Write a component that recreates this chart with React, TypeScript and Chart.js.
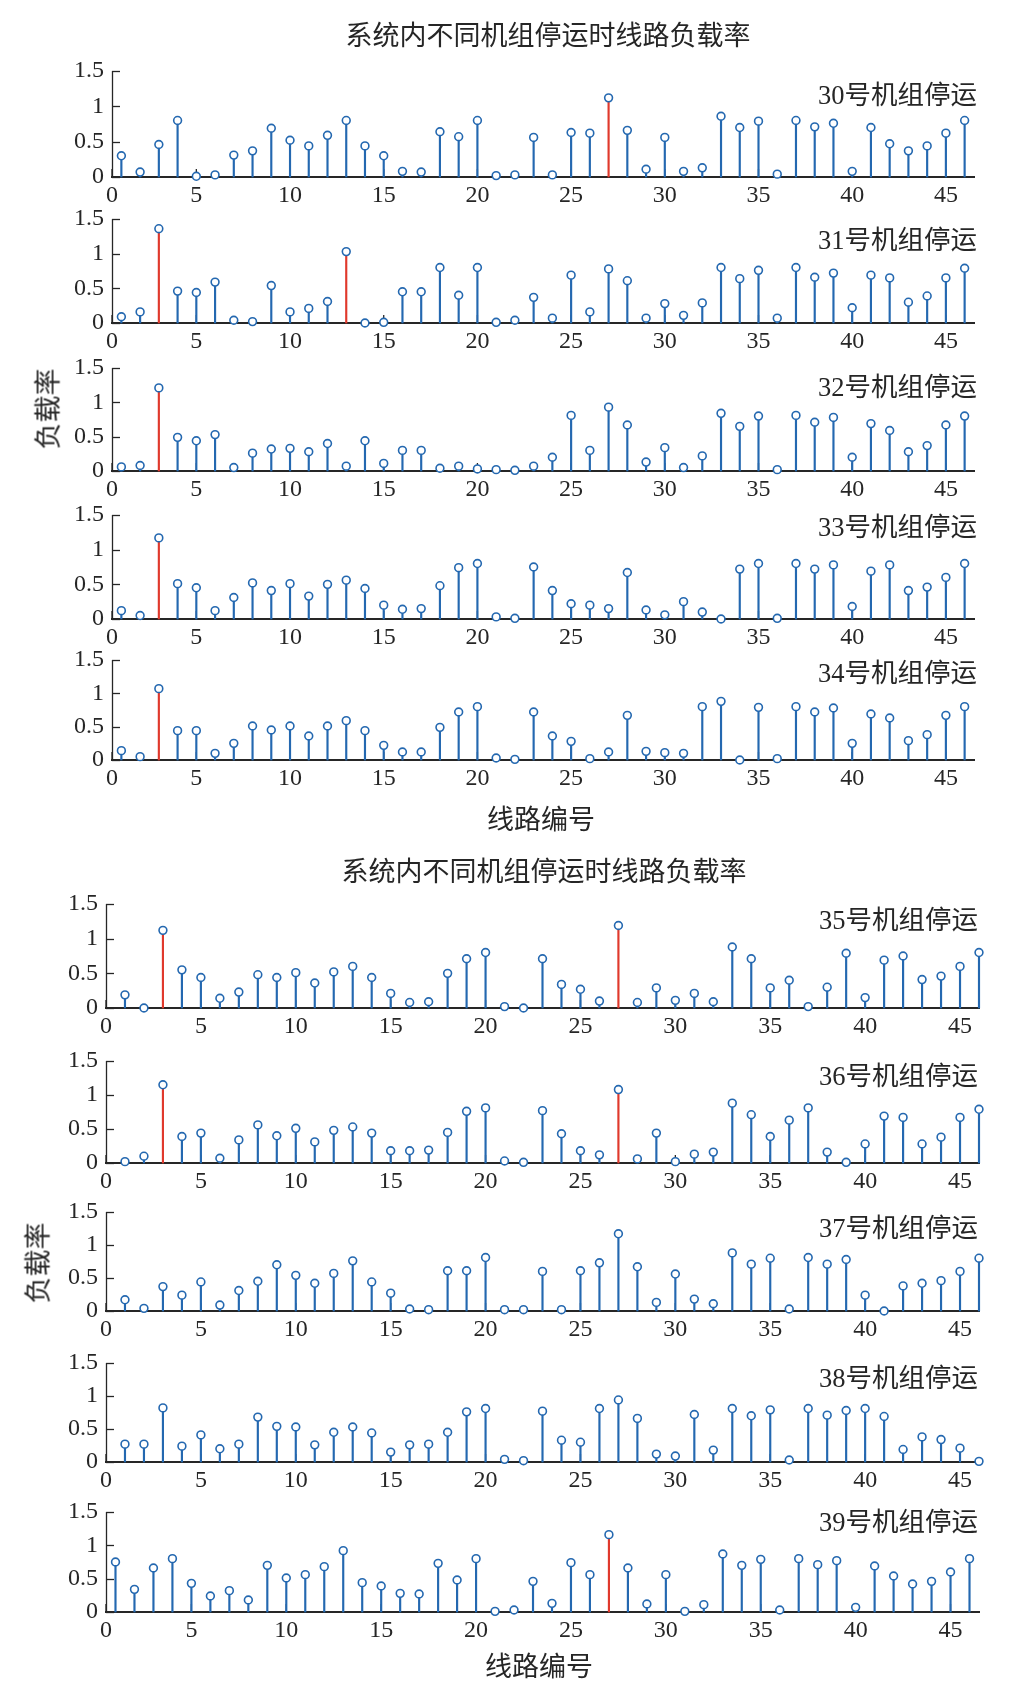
import React, { useEffect, useRef } from "react";
import { Chart, registerables } from "chart.js";

Chart.register(...registerables);

// ---------------- data ----------------
const lineNumbers = [
  1, 2, 3, 4, 5, 6, 7, 8, 9, 10, 11, 12, 13, 14, 15, 16, 17, 18, 19, 20, 21, 22, 23,
  24, 25, 26, 27, 28, 29, 30, 31, 32, 33, 34, 35, 36, 37, 38, 39, 40, 41, 42, 43, 44,
  45, 46,
];

const load30 = [0.30, 0.07, 0.46, 0.80, 0.01, 0.03, 0.31, 0.37, 0.69, 0.52, 0.44, 0.59, 0.80, 0.44, 0.30, 0.08, 0.07, 0.64, 0.57, 0.80, 0.02, 0.03, 0.56, 0.03, 0.63, 0.62, 1.12, 0.66, 0.11, 0.56, 0.08, 0.13, 0.86, 0.70, 0.79, 0.04, 0.80, 0.71, 0.76, 0.08, 0.70, 0.47, 0.37, 0.44, 0.62, 0.80];
const load31 = [0.09, 0.16, 1.36, 0.46, 0.44, 0.59, 0.04, 0.02, 0.54, 0.16, 0.21, 0.31, 1.03, 0.00, 0.01, 0.45, 0.45, 0.80, 0.40, 0.80, 0.01, 0.04, 0.37, 0.07, 0.69, 0.16, 0.78, 0.61, 0.07, 0.28, 0.11, 0.29, 0.80, 0.64, 0.76, 0.07, 0.80, 0.66, 0.72, 0.22, 0.69, 0.65, 0.30, 0.39, 0.65, 0.79];
const load32 = [0.06, 0.08, 1.21, 0.49, 0.44, 0.53, 0.05, 0.26, 0.32, 0.33, 0.28, 0.40, 0.07, 0.44, 0.11, 0.30, 0.30, 0.04, 0.07, 0.03, 0.02, 0.01, 0.07, 0.20, 0.81, 0.30, 0.93, 0.67, 0.13, 0.34, 0.05, 0.22, 0.84, 0.65, 0.80, 0.02, 0.81, 0.71, 0.78, 0.20, 0.69, 0.59, 0.28, 0.37, 0.67, 0.80];
const load33 = [0.12, 0.05, 1.17, 0.51, 0.45, 0.12, 0.31, 0.52, 0.41, 0.51, 0.33, 0.50, 0.56, 0.44, 0.20, 0.14, 0.15, 0.48, 0.74, 0.80, 0.03, 0.01, 0.75, 0.41, 0.22, 0.20, 0.15, 0.67, 0.13, 0.06, 0.25, 0.10, 0.00, 0.72, 0.80, 0.01, 0.80, 0.72, 0.78, 0.18, 0.69, 0.78, 0.41, 0.46, 0.60, 0.80];
const load34 = [0.14, 0.05, 1.07, 0.44, 0.44, 0.10, 0.25, 0.51, 0.45, 0.51, 0.36, 0.51, 0.59, 0.44, 0.22, 0.12, 0.12, 0.49, 0.72, 0.80, 0.03, 0.01, 0.72, 0.36, 0.28, 0.02, 0.12, 0.67, 0.13, 0.11, 0.10, 0.80, 0.88, 0.00, 0.79, 0.02, 0.80, 0.72, 0.78, 0.25, 0.69, 0.63, 0.29, 0.38, 0.67, 0.80];
const load35 = [0.19, 0.00, 1.12, 0.55, 0.44, 0.14, 0.23, 0.48, 0.44, 0.51, 0.36, 0.52, 0.60, 0.44, 0.21, 0.08, 0.09, 0.50, 0.71, 0.80, 0.02, 0.00, 0.71, 0.34, 0.27, 0.10, 1.19, 0.08, 0.29, 0.11, 0.21, 0.09, 0.88, 0.71, 0.29, 0.40, 0.02, 0.30, 0.79, 0.15, 0.69, 0.75, 0.41, 0.46, 0.60, 0.80];
const load36 = [0.02, 0.10, 1.15, 0.39, 0.44, 0.07, 0.34, 0.56, 0.40, 0.51, 0.31, 0.48, 0.53, 0.44, 0.18, 0.18, 0.19, 0.45, 0.76, 0.81, 0.03, 0.01, 0.77, 0.43, 0.18, 0.12, 1.08, 0.06, 0.44, 0.02, 0.13, 0.16, 0.88, 0.71, 0.39, 0.63, 0.81, 0.16, 0.01, 0.28, 0.69, 0.67, 0.28, 0.38, 0.67, 0.79];
const load37 = [0.17, 0.04, 0.37, 0.24, 0.44, 0.09, 0.31, 0.45, 0.70, 0.54, 0.42, 0.57, 0.76, 0.44, 0.27, 0.03, 0.02, 0.61, 0.61, 0.81, 0.02, 0.02, 0.60, 0.02, 0.61, 0.73, 1.17, 0.67, 0.13, 0.56, 0.18, 0.11, 0.88, 0.71, 0.80, 0.03, 0.81, 0.71, 0.78, 0.24, 0.00, 0.38, 0.42, 0.46, 0.60, 0.80];
const load38 = [0.27, 0.27, 0.82, 0.24, 0.41, 0.20, 0.27, 0.68, 0.54, 0.53, 0.26, 0.45, 0.53, 0.44, 0.15, 0.26, 0.27, 0.45, 0.76, 0.81, 0.04, 0.02, 0.77, 0.33, 0.30, 0.81, 0.94, 0.66, 0.12, 0.09, 0.72, 0.18, 0.81, 0.70, 0.79, 0.03, 0.81, 0.71, 0.78, 0.81, 0.69, 0.19, 0.38, 0.34, 0.21, 0.01];
const load39 = [0.75, 0.34, 0.66, 0.80, 0.43, 0.24, 0.32, 0.18, 0.70, 0.51, 0.56, 0.68, 0.92, 0.44, 0.39, 0.28, 0.27, 0.73, 0.48, 0.80, 0.01, 0.03, 0.46, 0.13, 0.74, 0.56, 1.16, 0.66, 0.12, 0.56, 0.01, 0.11, 0.87, 0.70, 0.79, 0.03, 0.80, 0.71, 0.77, 0.07, 0.69, 0.54, 0.42, 0.46, 0.60, 0.80];

// lines drawn in red (overloaded) for each outage case
const red30 = [27];
const red31 = [3, 13];
const red32 = [3];
const red33 = [3];
const red34 = [3];
const red35 = [3, 27];
const red36 = [3, 27];
const red37: number[] = [];
const red38: number[] = [];
const red39 = [27];

const caseNames = ["30号机组停运", "31号机组停运", "32号机组停运", "33号机组停运", "34号机组停运", "35号机组停运", "36号机组停运", "37号机组停运", "38号机组停运", "39号机组停运"];
const figureTitle = "系统内不同机组停运时线路负载率";
const xAxisTitle = "线路编号";
const yAxisTitle = "负载率";

const yTickValues = [0, 0.5, 1, 1.5];
const yTickLabels = ["0", "0.5", "1", "1.5"];
const xTickValuesShifted = [0.5, 5, 10, 15, 20, 25, 30, 35, 40, 45];
const xTickValuesPlain = [0, 5, 10, 15, 20, 25, 30, 35, 40, 45];
const xTickLabels = ["0", "5", "10", "15", "20", "25", "30", "35", "40", "45"];

// ---------------- style / layout ----------------
const BLUE = "#2468b0";
const RED = "#e0392c";
const AXIS = "#262626";
const SERIF = "'Liberation Serif', 'Times New Roman', 'Noto Sans CJK SC', serif";
const TICK_FONT = 24;
const PAD_TOP = 24;
const PAD_BOTTOM = 46;

type Panel = {
  name: string;
  values: number[];
  red: number[];
  top: number;
  zero: number;
  left: number;
  right: number;
  xmin: number;
  xmax: number;
  xticks: number[];
  labelY: number;
  labelRight: number;
};

const G1 = { left: 112, right: 974, labelRight: 977, xmin: 0.5, xmax: 46.5, xticks: xTickValuesShifted };
const G2 = { left: 106, right: 979, labelRight: 978, xmin: 0, xmax: 46, xticks: xTickValuesPlain };
const G2s = { left: 106, right: 979, labelRight: 978, xmin: 0.5, xmax: 46.5, xticks: xTickValuesShifted };

const panels: Panel[] = [
  { name: caseNames[0], values: load30, red: red30, top: 71, zero: 177, labelY: 95, ...G1 },
  { name: caseNames[1], values: load31, red: red31, top: 219, zero: 323, labelY: 240, ...G1 },
  { name: caseNames[2], values: load32, red: red32, top: 368, zero: 471, labelY: 387, ...G1 },
  { name: caseNames[3], values: load33, red: red33, top: 515, zero: 619, labelY: 527, ...G1 },
  { name: caseNames[4], values: load34, red: red34, top: 660, zero: 760, labelY: 673, ...G1 },
  { name: caseNames[5], values: load35, red: red35, top: 904, zero: 1008, labelY: 920, ...G2 },
  { name: caseNames[6], values: load36, red: red36, top: 1061, zero: 1163, labelY: 1076, ...G2 },
  { name: caseNames[7], values: load37, red: red37, top: 1212, zero: 1311, labelY: 1228, ...G2 },
  { name: caseNames[8], values: load38, red: red38, top: 1363, zero: 1462, labelY: 1378, ...G2 },
  { name: caseNames[9], values: load39, red: red39, top: 1512, zero: 1612, labelY: 1522, ...G2s },
];

// MATLAB-like axes: left axis line plus inward tick marks
const matlabAxes = {
  id: "matlabAxes",
  beforeDatasetsDraw(chart: any) {
    const { ctx, chartArea, scales } = chart;
    ctx.save();
    ctx.strokeStyle = AXIS;
    ctx.lineWidth = 1.3;
    const ax = Math.round(chartArea.left) + 0.5;
    ctx.beginPath();
    ctx.moveTo(ax, scales.y.getPixelForValue(1.5));
    ctx.lineTo(ax, chartArea.bottom);
    ctx.stroke();
    for (const v of yTickValues) {
      const y = Math.round(scales.y.getPixelForValue(v)) + 0.5;
      ctx.beginPath();
      ctx.moveTo(chartArea.left, y);
      ctx.lineTo(chartArea.left + 8, y);
      ctx.stroke();
    }
    for (const t of scales.x.ticks) {
      const x = scales.x.getPixelForValue(t.value);
      ctx.beginPath();
      ctx.moveTo(x, chartArea.bottom);
      ctx.lineTo(x, chartArea.bottom - 8);
      ctx.stroke();
    }
    ctx.restore();
  },
};

function StemPanel({ p }: { p: Panel }) {
  const ref = useRef<HTMLCanvasElement | null>(null);
  const h = PAD_TOP + (p.zero - p.top) + PAD_BOTTOM;
  useEffect(() => {
    if (!ref.current) return;
    const pts = lineNumbers.map((x, i) => ({ x, y: p.values[i] }));
    const stemColors = lineNumbers.map((x) => (p.red.includes(x) ? RED : BLUE));
    const chart = new Chart(ref.current, {
      type: "bar",
      data: {
        datasets: [
          {
            type: "scatter",
            data: pts,
            pointRadius: 3.9,
            pointBorderWidth: 1.6,
            pointBorderColor: BLUE,
            pointBackgroundColor: "#ffffff",
            clip: false,
          } as any,
          {
            type: "bar",
            data: pts,
            backgroundColor: stemColors,
            barThickness: 1.5,
            borderWidth: 0,
            clip: false,
          } as any,
        ],
      },
      options: {
        animation: false,
        responsive: false,
        maintainAspectRatio: false,
        events: [],
        layout: { padding: { left: 0, right: 1010 - p.right, top: PAD_TOP, bottom: 0 } },
        plugins: { legend: { display: false }, tooltip: { enabled: false }, title: { display: false } },
        scales: {
          x: {
            type: "linear",
            offset: false,
            min: p.xmin,
            max: p.xmax,
            grid: { display: false, drawTicks: false, offset: false },
            border: { display: true, color: AXIS, width: 2 },
            ticks: {
              padding: 4,
              color: AXIS,
              font: { family: SERIF, size: TICK_FONT },
              maxRotation: 0,
              autoSkip: false,
              callback: (_v: any, i: number) => xTickLabels[i],
            },
            afterBuildTicks: (s: any) => {
              s.ticks = p.xticks.map((v) => ({ value: v }));
            },
            afterFit: (s: any) => {
              s.height = PAD_BOTTOM;
            },
          },
          y: {
            type: "linear",
            min: 0,
            max: 1.5,
            grid: { display: false, drawTicks: false },
            border: { display: false },
            ticks: {
              padding: 8,
              color: AXIS,
              font: { family: SERIF, size: TICK_FONT },
              autoSkip: false,
              callback: (_v: any, i: number) => yTickLabels[i],
            },
            afterBuildTicks: (s: any) => {
              s.ticks = yTickValues.map((v) => ({ value: v }));
            },
            afterFit: (s: any) => {
              s.width = p.left;
            },
          },
        },
      },
      plugins: [matlabAxes],
    });
    return () => chart.destroy();
  }, [p]);
  return (
    <canvas
      ref={ref}
      width={1010}
      height={h}
      style={{ position: "absolute", left: 0, top: p.top - PAD_TOP, width: 1010, height: h }}
    />
  );
}

const textBase: React.CSSProperties = {
  position: "absolute",
  fontFamily: SERIF,
  color: AXIS,
  whiteSpace: "nowrap",
  lineHeight: 1,
};

function CenterText({ x, y, size, text, rotate }: { x: number; y: number; size: number; text: string; rotate?: boolean }) {
  return (
    <div
      style={{
        ...textBase,
        left: x,
        top: y,
        fontSize: size,
        transform: `translate(-50%, -50%)${rotate ? " rotate(-90deg)" : ""}`,
      }}
    >
      {text}
    </div>
  );
}

export default function App() {
  return (
    <div style={{ position: "absolute", left: 0, top: 0, width: 1010, height: 1699, background: "#ffffff", overflow: "hidden" }}>
      {panels.map((p) => (
        <StemPanel key={p.name} p={p} />
      ))}
      {panels.map((p) => (
        <div
          key={p.name + "-label"}
          style={{ ...textBase, fontSize: 26.5, right: 1010 - p.labelRight, top: p.labelY, transform: "translateY(-50%)" }}
        >
          {p.name}
        </div>
      ))}
      <CenterText x={548} y={36} size={27} text={figureTitle} />
      <CenterText x={544} y={872} size={27} text={figureTitle} />
      <CenterText x={541} y={820} size={27} text={xAxisTitle} />
      <CenterText x={539} y={1667} size={27} text={xAxisTitle} />
      <CenterText x={49} y={409} size={27} text={yAxisTitle} rotate />
      <CenterText x={39} y={1263} size={27} text={yAxisTitle} rotate />
    </div>
  );
}
